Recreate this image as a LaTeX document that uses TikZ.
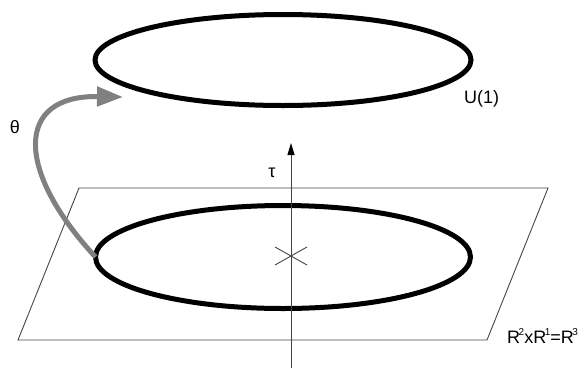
\documentclass[tikz,border=0pt]{standalone}
\usepackage{fontspec}
\setmainfont{Liberation Sans}
\usetikzlibrary{arrows.meta}
\definecolor{arrgray}{HTML}{808080}
\definecolor{thin}{HTML}{454545}
\tikzset{
  ring/.style={line width=5pt, draw=black},
  plane/.style={line width=0.9pt, draw=thin},
  lab/.style={inner sep=0pt, font=\fontsize{18}{21}\selectfont},
}
\newcommand{\supsc}[1]{\raisebox{0.8ex}{\fontsize{10}{11}\selectfont #1}}
\begin{document}
\begin{tikzpicture}[x=1pt,y=-1pt]
\useasboundingbox (0,0) rectangle (584,368);
% plane
\draw[plane] (79,188) coordinate (p1) -- (548,188) coordinate (p2) -- (487,340) coordinate (p3) -- (18,340) coordinate (p4) -- cycle;
% bottom ring
\coordinate (bc) at (283,257);
\draw[ring] (bc) ellipse [x radius=187.5, y radius=51.5];
\coordinate (bw) at (95.5,257);
% top ring
\coordinate (tc) at (283,60);
\draw[ring] (tc) ellipse [x radius=188, y radius=45.5];
% axis
\coordinate (ab) at (291,368);
\coordinate (at) at (291,143);
\draw[plane, -{Triangle[length=12pt,width=7pt,color=black]}] (ab) -- (at);
% cross
\coordinate (x1) at (275,247); \coordinate (x2) at (307,265);
\coordinate (x3) at (275,265); \coordinate (x4) at (307,247);
\draw[plane] (x1) -- (x2) (x3) -- (x4);
% gray arrow
\coordinate (gt) at (123,97);
\draw[arrgray, line width=5pt, -{Triangle[length=26pt,width=19pt]}] (bw) .. controls (15,170) and (15,95) .. (gt);
% labels
\node[lab] (theta) at (15,127) {θ};
\node[lab] (tau) at (272,173) {τ};
\node[lab, anchor=west] (u1) at (464,99) {U(1)};
\node[lab, anchor=base west] (r3) at (507,343) {R\kern-1.5pt\supsc{2}xR\kern-1.5pt\supsc{1}=R\kern-1.5pt\supsc{3}};
\end{tikzpicture}
\end{document}
